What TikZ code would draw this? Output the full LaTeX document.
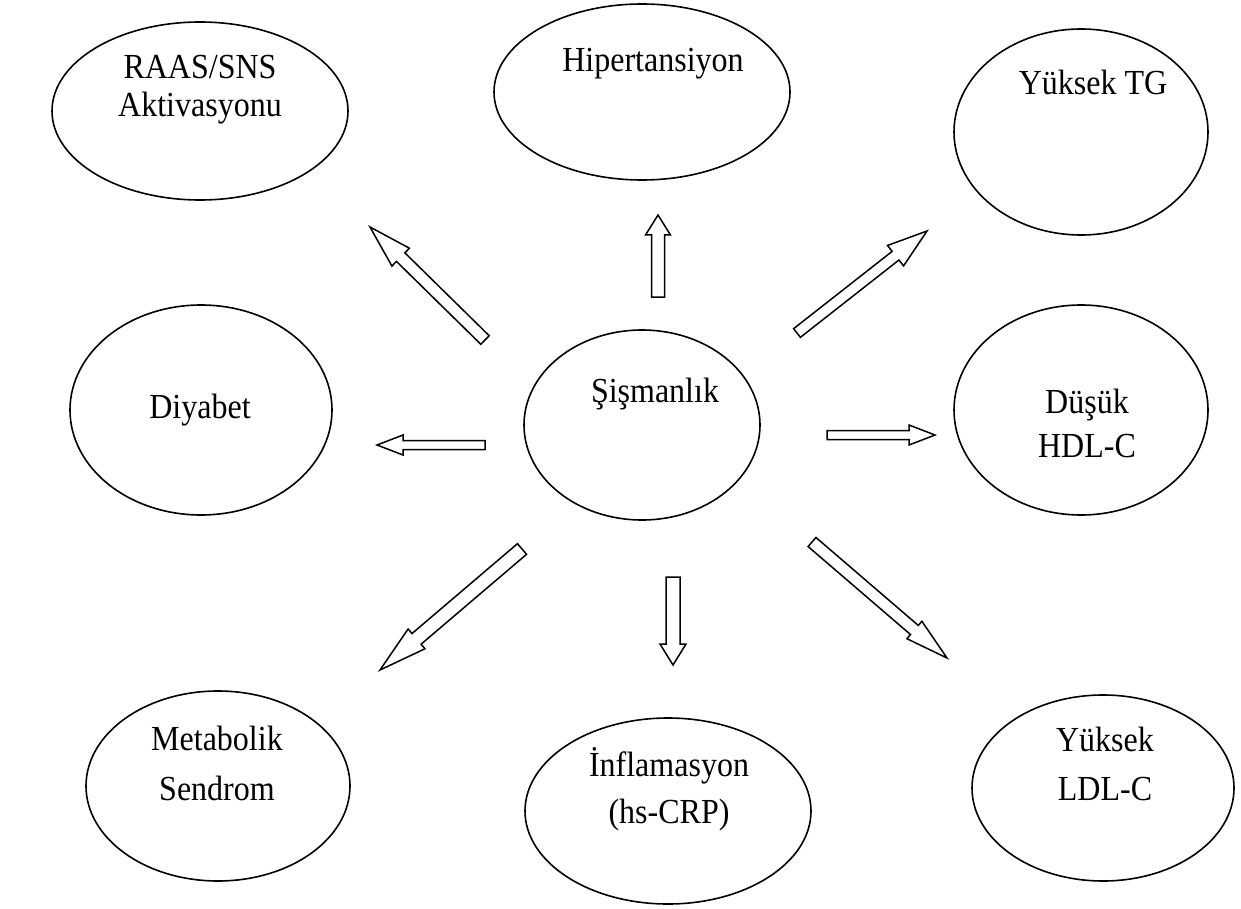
\documentclass[tikz,border=0pt]{standalone}
\usepackage{fontspec}
\setmainfont{Liberation Serif}
\usetikzlibrary{calc,shapes.geometric}

% hollow block arrow: start, end, half shaft, half head, head length
\newcommand{\fatarrow}[5]{%
  \coordinate (hb) at ($(#2)!#5!(#1)$);
  \draw[fatarr] ($(#1)!#3!90:(#2)$) -- ($(hb)!#3!90:(#2)$) -- ($(hb)!#4!90:(#2)$) -- (#2)
    -- ($(hb)!#4!-90:(#2)$) -- ($(hb)!#3!-90:(#2)$) -- ($(#1)!#3!-90:(#2)$) -- cycle;
}

\begin{document}
\begin{tikzpicture}[x=1pt, y=-1pt,
  oval/.style={draw, ellipse, line width=1.6pt, inner sep=0pt},
  lbl/.style={font=\fontsize{32}{40}\selectfont, align=center, anchor=base, inner sep=0pt, yscale=1.1, transform shape},
  fatarr/.style={draw, fill=white, line width=1.5pt, line join=miter}]
\useasboundingbox (0,0) rectangle (1241,909);
% top row
\node[oval, minimum width=296pt, minimum height=178pt] (raas) at (200,111) {};
\node[lbl, font=\fontsize{32}{35}\selectfont] (raast) at (200,117) {RAAS/SNS\\Aktivasyonu};
\node[oval, minimum width=296pt, minimum height=176pt] (hiper) at (642,92) {};
\node[lbl] (hipert) at (653,72) {Hipertansiyon};
\node[oval, minimum width=254pt, minimum height=206pt] (tg) at (1081,132) {};
\node[lbl] (tgt) at (1093,95) {Yüksek TG};
% middle row
\node[oval, minimum width=262pt, minimum height=210pt] (diyabet) at (201,410) {};
\node[lbl] (diyabett) at (200,418) {Diyabet};
\node[oval, minimum width=236pt, minimum height=190pt] (obez) at (642,425) {};
\node[lbl] (obezt) at (655,402) {Şişmanlık};
\node[oval, minimum width=254pt, minimum height=210pt] (hdl) at (1081,410) {};
\node[lbl] (hdlt) at (1087,457) {Düşük\\HDL-C};
% bottom row
\node[oval, minimum width=264pt, minimum height=190pt] (metsen) at (218,786) {};
\node[lbl, font=\fontsize{32}{45}\selectfont] (metsent) at (217,800) {Metabolik\\Sendrom};
\node[oval, minimum width=286pt, minimum height=186pt] (inflam) at (668,811) {};
\node[lbl, font=\fontsize{32}{42}\selectfont] (inflamt) at (669,823) {İnflamasyon\\(hs-CRP)};
\node[oval, minimum width=262pt, minimum height=186pt] (ldl) at (1103,788) {};
\node[lbl, font=\fontsize{32}{44}\selectfont] (ldlt) at (1105,800) {Yüksek\\LDL-C};
% arrow ends
\coordinate (s1) at (485,340); \coordinate (e1) at (370,227);
\coordinate (s2) at (658,297); \coordinate (e2) at (658,215);
\coordinate (s3) at (797,333); \coordinate (e3) at (927,231);
\coordinate (s4) at (485,445); \coordinate (e4) at (377,445);
\coordinate (s5) at (827,435); \coordinate (e5) at (935,435);
\coordinate (s6) at (522,549); \coordinate (e6) at (380,670);
\coordinate (s7) at (673,577); \coordinate (e7) at (673,665);
\coordinate (s8) at (812,542); \coordinate (e8) at (947,658);
% arrows
\fatarrow{s1}{e1}{6pt}{12.5pt}{43pt}
\fatarrow{s2}{e2}{6.5pt}{12.5pt}{20pt}
\fatarrow{s3}{e3}{5.5pt}{13pt}{40pt}
\fatarrow{s4}{e4}{4.5pt}{10pt}{26pt}
\fatarrow{s5}{e5}{4.5pt}{10pt}{26pt}
\fatarrow{s6}{e6}{7pt}{13pt}{48pt}
\fatarrow{s7}{e7}{7pt}{13pt}{21pt}
\fatarrow{s8}{e8}{6pt}{11.5pt}{43pt}
\end{tikzpicture}
\end{document}
